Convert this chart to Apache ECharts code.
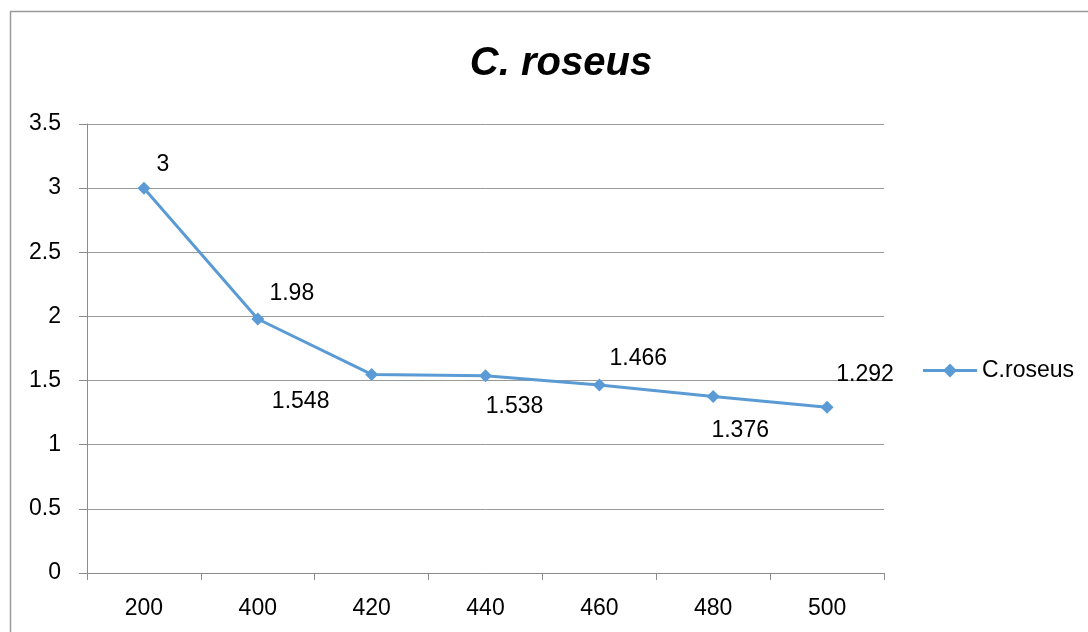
<!DOCTYPE html>
<html>
<head>
<meta charset="utf-8">
<script src="https://cdn.jsdelivr.net/npm/echarts@6/dist/echarts.min.js"></script>
<style>
html,body{margin:0;padding:0;background:#fff;}
#chart{width:1088px;height:632px;}
</style>
</head>
<body>
<div id="chart"></div>
<script>
// 数据
var categories = ['200', '400', '420', '440', '460', '480', '500'];
var values = [3, 1.98, 1.548, 1.538, 1.466, 1.376, 1.292];
var seriesName = 'C.roseus';
var yTicks = [0, 0.5, 1, 1.5, 2, 2.5, 3, 3.5];

// 标签偏移（只是样式）
var labelOffsets = [[19, -23], [34, -25], [-71, 27], [29, 31], [39, -26], [27, 34], [38, -33]];

var fontName = '"Liberation Sans", Arial, sans-serif';
var lineColor = '#5B9BD5';
// 图例图标：粗线 + 菱形
var legendIcon = 'path://M0,5.5 H54 V8.5 H0 Z M27,0 L34,7 L27,14 L20,7 Z';

function buildData(){
    var arr = [];
    for (var i = 0; i < values.length; i++) {
        arr.push({
            value: values[i],
            label: {
                show: true,
                position: 'inside',
                offset: labelOffsets[i],
                formatter: '{c}',
                color: '#000',
                fontSize: 23,
                fontFamily: fontName
            }
        });
    }
    return arr;
}

var chart = echarts.init(document.getElementById('chart'));
chart.setOption({
    animation: false,
    backgroundColor: '#fff',
    graphic: [{
        type: 'rect',
        silent: true,
        shape: {x: 10.5, y: 11.5, width: 1300, height: 900},
        style: {fill: 'none', stroke: '#9a9a9a', lineWidth: 1.5}
    }],
    title: {
        text: 'C. roseus',
        left: 556,
        top: 39,
        textAlign: 'center',
        textStyle: {
            fontFamily: fontName,
            fontSize: 40,
            fontWeight: 'bold',
            fontStyle: 'italic',
            color: '#000'
        }
    },
    legend: {
        data: [{name: seriesName, icon: legendIcon}],
        left: 918,
        top: 354,
        itemWidth: 54,
        itemHeight: 14,
        itemGap: 6,
        itemStyle: {color: lineColor},
        textStyle: {fontFamily: fontName, fontSize: 23, color: '#000'}
    },
    grid: {left: 87, right: 204, top: 124, bottom: 59},
    xAxis: {
        type: 'category',
        data: categories,
        boundaryGap: true,
        axisLine: {lineStyle: {color: '#8c8c8c', width: 1}},
        axisTick: {show: true, length: 7, lineStyle: {color: '#8c8c8c'}},
        axisLabel: {color: '#000', fontSize: 23, fontFamily: fontName, margin: 24}
    },
    yAxis: {
        type: 'value',
        min: yTicks[0],
        max: yTicks[yTicks.length - 1],
        interval: 0.5,
        axisLine: {show: true, lineStyle: {color: '#8c8c8c', width: 1}},
        axisTick: {show: true, length: 8, lineStyle: {color: '#8c8c8c'}},
        axisLabel: {color: '#000', fontSize: 23, fontFamily: fontName, margin: 26},
        splitLine: {lineStyle: {color: '#9a9a9a', width: 1}}
    },
    series: [{
        name: seriesName,
        type: 'line',
        data: buildData(),
        symbol: 'diamond',
        symbolSize: 13,
        itemStyle: {color: lineColor},
        lineStyle: {color: lineColor, width: 3}
    }]
});
</script>
</body>
</html>
